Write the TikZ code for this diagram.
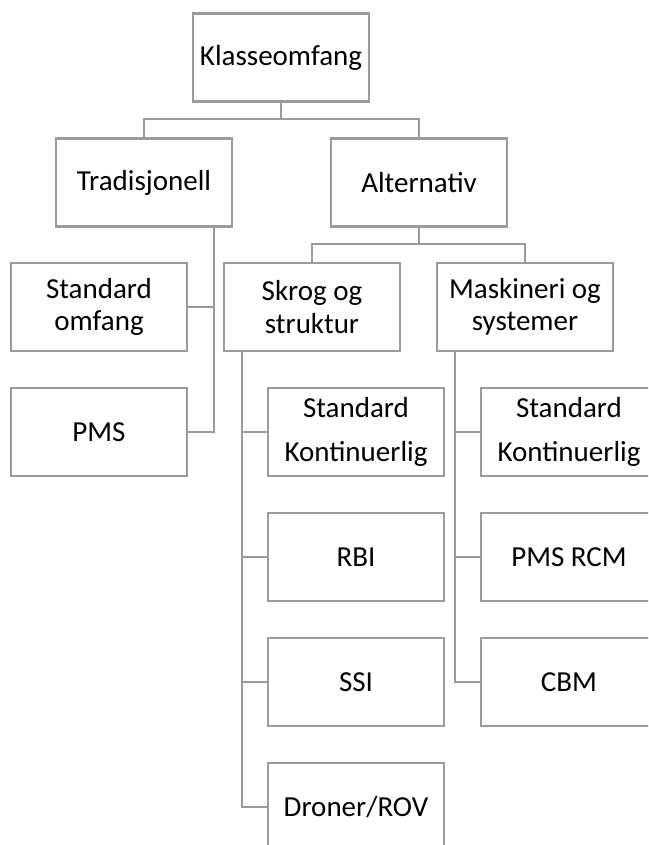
\documentclass[tikz,border=0pt]{standalone}
\usepackage{fontspec}
\setmainfont{Carlito}
\definecolor{linegray}{RGB}{155,155,155}
\begin{document}
\begin{tikzpicture}[x=1pt,y=-1pt,
  box/.style={draw=linegray,line width=2.1pt,fill=white,minimum width=176pt,minimum height=88pt,inner sep=0pt,align=center,font=\fontsize{29}{32.5}\selectfont},
  conn/.style={draw=linegray,line width=2.6pt}]
\useasboundingbox (0,0) rectangle (648,845);
\clip (0,0) rectangle (648,845);
% nodes
\node[box] (K) at (281,57.5) {Klasseomfang};
\node[box] (T) at (144,182.5) {Tradisjonell};
\node[box] (A) at (419,182.5) {Alternativ};
\node[box] (SO) at (99,307) {Standard\\omfang};
\node[box] (PMS) at (99,432) {PMS};
\node[box] (SK) at (312,307) {Skrog og\\struktur};
\node[box] (MS) at (525,307) {Maskineri og\\systemer};
\node[box] (L1) at (356,432) {Standard\\[11.5pt]Kontinuerlig};
\node[box] (L2) at (356,557) {RBI};
\node[box] (L3) at (356,682) {SSI};
\node[box] (L4) at (356,807) {Droner/ROV};
\node[box] (R1) at (569,432) {Standard\\[11.5pt]Kontinuerlig};
\node[box] (R2) at (569,557) {PMS RCM};
\node[box] (R3) at (569,682) {CBM};
% connectors
\coordinate (kbar) at (281,119);
\draw[conn] (K.south) -- (kbar) -| (T.north);
\draw[conn] (kbar) -| (A.north);
\coordinate (tv) at (214,227);
\draw[conn] (tv) |- (SO.east);
\draw[conn] (tv) |- (PMS.east);
\coordinate (abar) at (419,244);
\draw[conn] (A.south) -- (abar) -| (SK.north);
\draw[conn] (abar) -| (MS.north);
\coordinate (sv) at (242,351);
\draw[conn] (sv) |- (L1.west);
\draw[conn] (sv) |- (L2.west);
\draw[conn] (sv) |- (L3.west);
\draw[conn] (sv) |- (L4.west);
\coordinate (mv) at (455,351);
\draw[conn] (mv) |- (R1.west);
\draw[conn] (mv) |- (R2.west);
\draw[conn] (mv) |- (R3.west);
\end{tikzpicture}
\end{document}
